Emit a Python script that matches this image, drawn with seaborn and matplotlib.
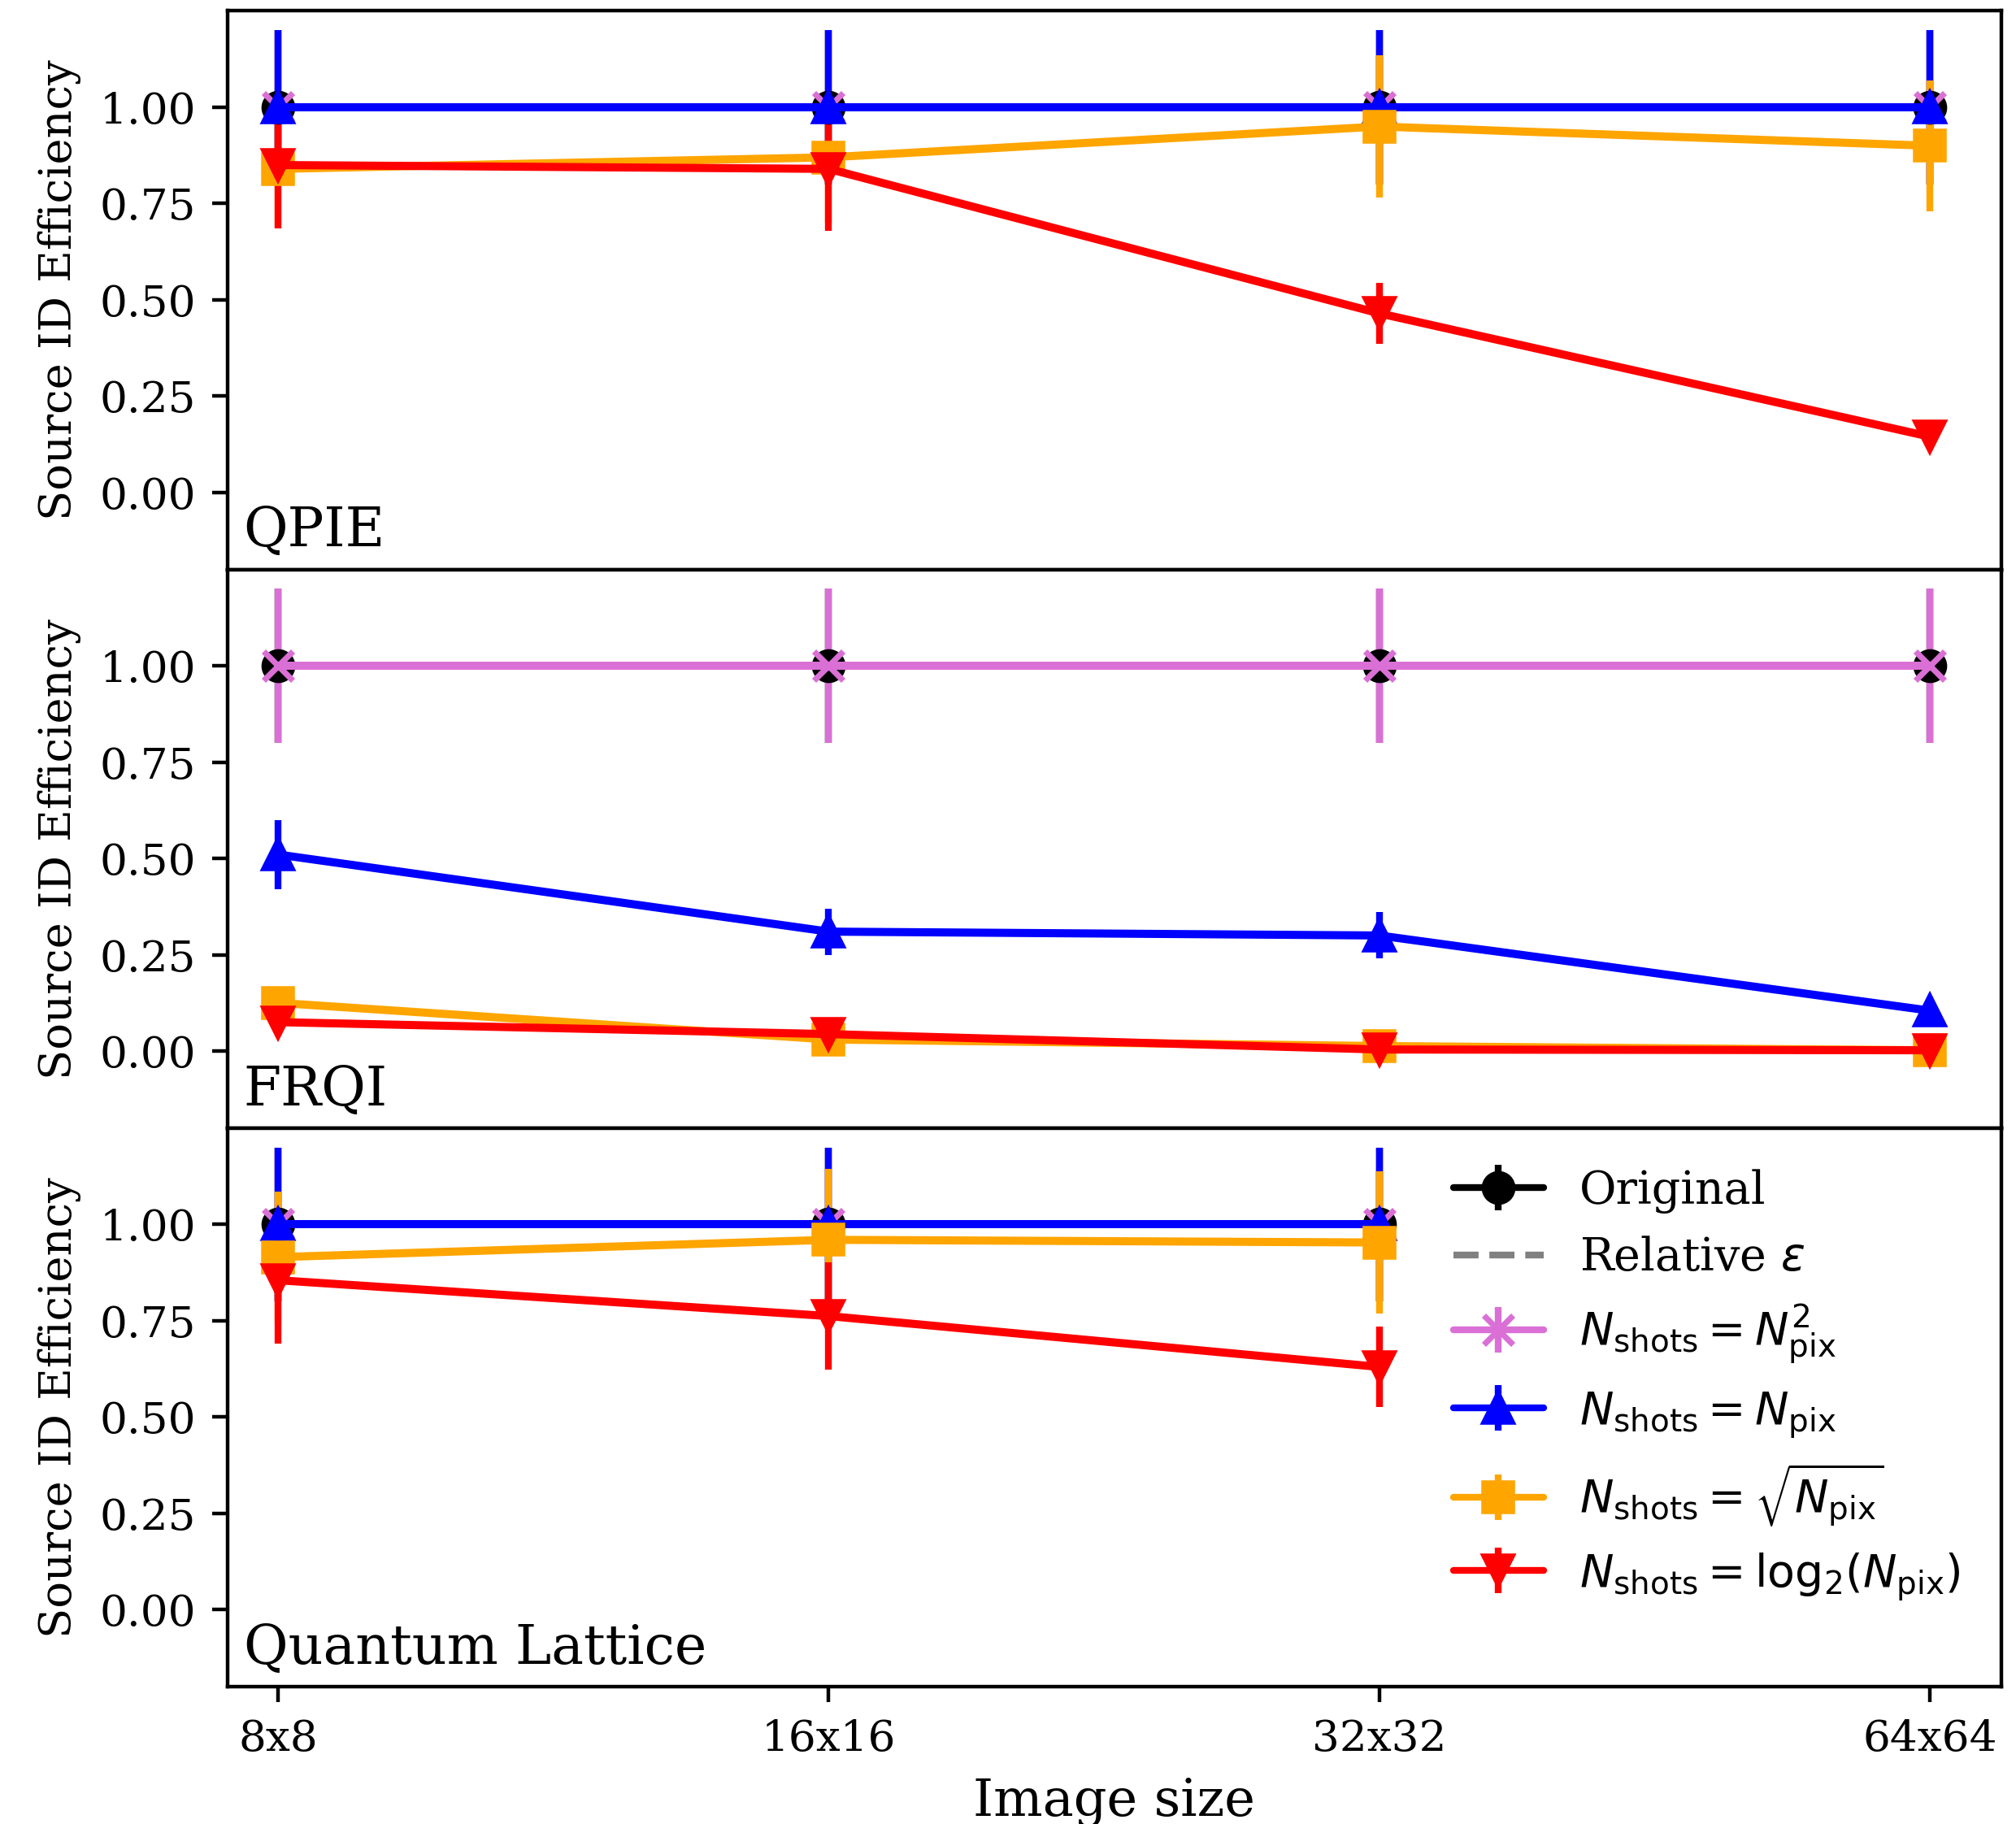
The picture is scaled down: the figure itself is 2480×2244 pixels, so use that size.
import numpy as np
import pandas as pd
import matplotlib
matplotlib.use("Agg")
import matplotlib.pyplot as plt
import seaborn as sns
from matplotlib.lines import Line2D

# ---------------- data ----------------
sizes = ["8x8", "16x16", "32x32", "64x64"]
panel_names = ["QPIE", "FRQI", "Quantum Lattice"]
ytick_vals = [0.00, 0.25, 0.50, 0.75, 1.00]

series_labels = [
    "Original",
    r"$N_{\rm shots} = N_{\rm pix}^2$",
    r"$N_{\rm shots} = N_{\rm pix}$",
    r"$N_{\rm shots} = \sqrt{N_{\rm pix}}$",
    r"$N_{\rm shots} = \mathrm{log}_2(N_{\rm pix})$",
]
series_colors = ["black", "orchid", "blue", "orange", "red"]
series_markers = ["o", "x", "^", "s", "v"]

# QPIE
qpie_original = [1.00, 1.00, 1.00, 1.00]
qpie_original_err = [0.20, 0.20, 0.20, 0.20]
qpie_npix2 = [1.00, 1.00, 1.00, 1.00]
qpie_npix2_err = [0.20, 0.20, 0.20, 0.20]
qpie_npix = [1.00, 1.00, 1.00, 1.00]
qpie_npix_err = [0.20, 0.20, 0.20, 0.20]
qpie_sqrt = [0.84, 0.87, 0.95, 0.90]
qpie_sqrt_err = [0.15, 0.17, 0.185, 0.17]
qpie_log2 = [0.85, 0.84, 0.465, 0.145]
qpie_log2_err = [0.165, 0.16, 0.08, 0.03]

# FRQI
frqi_original = [1.00, 1.00, 1.00, 1.00]
frqi_original_err = [0.20, 0.20, 0.20, 0.20]
frqi_npix2 = [1.00, 1.00, 1.00, 1.00]
frqi_npix2_err = [0.20, 0.20, 0.20, 0.20]
frqi_npix = [0.51, 0.31, 0.30, 0.105]
frqi_npix_err = [0.09, 0.06, 0.06, 0.02]
frqi_sqrt = [0.125, 0.03, 0.013, 0.002]
frqi_sqrt_err = [0.02, 0.01, 0.008, 0.002]
frqi_log2 = [0.075, 0.044, 0.004, 0.002]
frqi_log2_err = [0.02, 0.01, 0.004, 0.002]

# Quantum Lattice (64x64 not available)
ql_original = [1.00, 1.00, 1.00]
ql_original_err = [0.20, 0.20, 0.20]
ql_npix2 = [1.00, 1.00, 1.00]
ql_npix2_err = [0.20, 0.20, 0.20]
ql_npix = [1.00, 1.00, 1.00]
ql_npix_err = [0.20, 0.20, 0.20]
ql_sqrt = [0.915, 0.96, 0.953]
ql_sqrt_err = [0.17, 0.185, 0.185]
ql_log2 = [0.855, 0.762, 0.63]
ql_log2_err = [0.165, 0.14, 0.105]

panels = [
    [(qpie_original, qpie_original_err), (qpie_npix2, qpie_npix2_err),
     (qpie_npix, qpie_npix_err), (qpie_sqrt, qpie_sqrt_err), (qpie_log2, qpie_log2_err)],
    [(frqi_original, frqi_original_err), (frqi_npix2, frqi_npix2_err),
     (frqi_npix, frqi_npix_err), (frqi_sqrt, frqi_sqrt_err), (frqi_log2, frqi_log2_err)],
    [(ql_original, ql_original_err), (ql_npix2, ql_npix2_err),
     (ql_npix, ql_npix_err), (ql_sqrt, ql_sqrt_err), (ql_log2, ql_log2_err)],
]

# ---------------- style ----------------
sns.set_style("ticks")
plt.rcParams.update({
    "font.family": "serif",
    "font.serif": ["DejaVu Serif"],
    "mathtext.fontset": "dejavusans",
    "axes.edgecolor": "black",
    "axes.linewidth": 0.8,
    "xtick.color": "black",
    "ytick.color": "black",
    "xtick.major.size": 3.5,
    "ytick.major.size": 3.5,
    "xtick.major.width": 0.8,
    "ytick.major.width": 0.8,
    "text.color": "black",
    "axes.labelcolor": "black",
})

LW = 1.8
ELW = 1.5
MS = 6.5

fig, axes = plt.subplots(3, 1, sharex=True, figsize=(6.2, 5.61), dpi=400)
fig.subplots_adjust(left=0.1129, right=0.9927, top=0.994, bottom=0.0753, hspace=0)

for ax, name, series in zip(axes, panel_names, panels):
    for k, ((vals, errs), color, marker) in enumerate(zip(series, series_colors, series_markers)):
        n = len(vals)
        df = pd.DataFrame({"pos": np.arange(n), "size": sizes[:n], "value": vals, "err": errs})
        # error bars (drawn beneath all lines, like matplotlib errorbar default)
        ax.errorbar(df["pos"], df["value"], yerr=df["err"], fmt="none",
                    ecolor=color, elinewidth=ELW, capsize=0, zorder=2)
        # main line with markers
        sns.lineplot(data=df, x="pos", y="value", ax=ax, color=color, marker=marker,
                     markersize=MS, markeredgecolor=color,
                     markeredgewidth=1.3 if marker == "x" else 1.0,
                     linewidth=LW, errorbar=None, sort=False, zorder=2.1 + 0.01 * k)
        # relative-epsilon curve (dashed, same colour)
        sns.lineplot(data=df, x="pos", y="value", ax=ax, color=color, linestyle="--",
                     linewidth=1.4, errorbar=None, sort=False, zorder=2.1 + 0.01 * k + 0.005)
    ax.set_ylim(-0.2, 1.25)
    ax.set_yticks(ytick_vals)
    ax.set_yticklabels([f"{v:.2f}" for v in ytick_vals])
    ax.set_ylabel("Source ID Efficiency", fontsize=9.8)
    ax.set_xlabel("")
    ax.tick_params(axis="both", labelsize=9.6)
    ax.text(0.009, 0.041, name, transform=ax.transAxes, fontsize=12,
            ha="left", va="baseline")
    if ax is not axes[-1]:
        ax.tick_params(axis="x", bottom=False, labelbottom=False)

axes[-1].set_xlim(-0.092, 3.13)
axes[-1].set_xticks(np.arange(len(sizes)))
axes[-1].set_xticklabels(sizes)
axes[-1].set_xlabel("Image size", fontsize=11.5, labelpad=4)

# legend
handles = []
for color, marker in zip(series_colors, series_markers):
    bar = Line2D([], [], color=color, marker="|", linestyle="none", markersize=10,
                 markeredgewidth=ELW)
    line = Line2D([], [], color=color, marker=marker, markersize=MS, linewidth=1.5,
                  markeredgecolor=color, markeredgewidth=1.3 if marker == "x" else 1.0)
    handles.append((bar, line))
rel = Line2D([], [], color="grey", linestyle="--", linewidth=1.5)
all_handles = [handles[0], rel] + handles[1:]
all_labels = [series_labels[0], r"Relative $\epsilon$"] + series_labels[1:]
axes[-1].legend(all_handles, all_labels, loc="upper right", frameon=False, fontsize=10)

fig.savefig("out.png", dpi=400)
